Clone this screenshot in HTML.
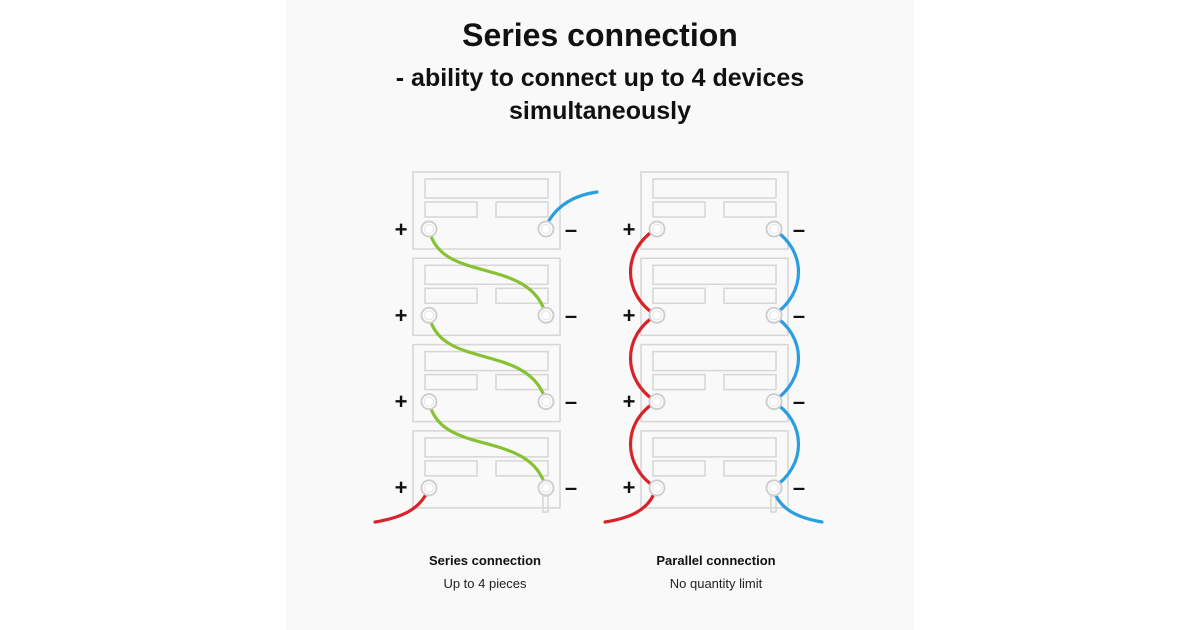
<!DOCTYPE html>
<html><head><meta charset="utf-8"><style>
body{margin:0;width:1200px;height:630px;background:#fff;overflow:hidden;font-family:"Liberation Sans",sans-serif}
svg{position:absolute;left:0;top:0}
</style></head><body>
<svg width="1200" height="630" viewBox="0 0 1200 630">
<rect x="286" y="0" width="628" height="630" fill="#f9f9f9"/>
<g font-family="Liberation Sans, sans-serif" font-weight="bold" fill="#111" text-anchor="middle">
<text x="600" y="46" font-size="32">Series connection</text>
<text x="600" y="86" font-size="25">- ability to connect up to 4 devices</text>
<text x="600" y="119" font-size="25">simultaneously</text>
<text x="485" y="565" font-size="13">Series connection</text>
<text x="716" y="565" font-size="13">Parallel connection</text>
</g>
<g font-family="Liberation Sans, sans-serif" fill="#222" text-anchor="middle" font-size="13">
<text x="485" y="588">Up to 4 pieces</text>
<text x="716" y="588">No quantity limit</text>
</g>
<g id="boxes" fill="none" stroke="#d6d6d6" stroke-width="1.5">
<g><rect x="413" y="172" width="147" height="77"/><rect x="425" y="179" width="123" height="19"/><rect x="425" y="202" width="52" height="15"/><rect x="496" y="202" width="52" height="15"/></g>
<g transform="translate(0,86.3)"><rect x="413" y="172" width="147" height="77"/><rect x="425" y="179" width="123" height="19"/><rect x="425" y="202" width="52" height="15"/><rect x="496" y="202" width="52" height="15"/></g>
<g transform="translate(0,172.6)"><rect x="413" y="172" width="147" height="77"/><rect x="425" y="179" width="123" height="19"/><rect x="425" y="202" width="52" height="15"/><rect x="496" y="202" width="52" height="15"/></g>
<g transform="translate(0,258.9)"><rect x="413" y="172" width="147" height="77"/><rect x="425" y="179" width="123" height="19"/><rect x="425" y="202" width="52" height="15"/><rect x="496" y="202" width="52" height="15"/></g>
<g transform="translate(228,0)"><rect x="413" y="172" width="147" height="77"/><rect x="425" y="179" width="123" height="19"/><rect x="425" y="202" width="52" height="15"/><rect x="496" y="202" width="52" height="15"/></g>
<g transform="translate(228,86.3)"><rect x="413" y="172" width="147" height="77"/><rect x="425" y="179" width="123" height="19"/><rect x="425" y="202" width="52" height="15"/><rect x="496" y="202" width="52" height="15"/></g>
<g transform="translate(228,172.6)"><rect x="413" y="172" width="147" height="77"/><rect x="425" y="179" width="123" height="19"/><rect x="425" y="202" width="52" height="15"/><rect x="496" y="202" width="52" height="15"/></g>
<g transform="translate(228,258.9)"><rect x="413" y="172" width="147" height="77"/><rect x="425" y="179" width="123" height="19"/><rect x="425" y="202" width="52" height="15"/><rect x="496" y="202" width="52" height="15"/></g>
<rect x="543" y="496" width="5" height="16"/>
<rect x="771" y="496" width="5" height="16"/>
</g>
<g fill="none" stroke-width="3.2" stroke-linecap="round">
<path d="M548,222 C558,205 575,195 597,192" stroke="#2b9ee0"/>
<path d="M429,229 C440,285 530,255 546,315.3" stroke="#86c232"/>
<path d="M429,315.3 C440,371 530,342 546,401.6" stroke="#86c232"/>
<path d="M429,401.6 C440,458 530,428 546,487.9" stroke="#86c232"/>
<path d="M428,490 C420,510 400,518 375,522" stroke="#d9232a"/>
<path d="M656,229 C622,250 622,294 656,315.3 C622,336 622,380 656,401.6 C622,422 622,466 656,487.9 C650,510 630,518 605,522" stroke="#d9232a"/>
<path d="M773,229 C807,250 807,294 773,315.3 C807,336 807,380 773,401.6 C807,422 807,466 773,487.9 C779,510 799,518 822,522" stroke="#2b9ee0"/>
</g>
<g fill="#fff" stroke="#cfcfcf" stroke-width="2">
<circle cx="429" cy="229" r="7.5"/><circle cx="546" cy="229" r="7.5"/>
<circle cx="429" cy="315.3" r="7.5"/><circle cx="546" cy="315.3" r="7.5"/>
<circle cx="429" cy="401.6" r="7.5"/><circle cx="546" cy="401.6" r="7.5"/>
<circle cx="429" cy="487.9" r="7.5"/><circle cx="546" cy="487.9" r="7.5"/>
<circle cx="657" cy="229" r="7.5"/><circle cx="774" cy="229" r="7.5"/>
<circle cx="657" cy="315.3" r="7.5"/><circle cx="774" cy="315.3" r="7.5"/>
<circle cx="657" cy="401.6" r="7.5"/><circle cx="774" cy="401.6" r="7.5"/>
<circle cx="657" cy="487.9" r="7.5"/><circle cx="774" cy="487.9" r="7.5"/>
</g>
<g fill="none" stroke="#e2e2e2" stroke-width="1">
<circle cx="429" cy="229" r="4.5"/><circle cx="546" cy="229" r="4.5"/>
<circle cx="429" cy="315.3" r="4.5"/><circle cx="546" cy="315.3" r="4.5"/>
<circle cx="429" cy="401.6" r="4.5"/><circle cx="546" cy="401.6" r="4.5"/>
<circle cx="429" cy="487.9" r="4.5"/><circle cx="546" cy="487.9" r="4.5"/>
<circle cx="657" cy="229" r="4.5"/><circle cx="774" cy="229" r="4.5"/>
<circle cx="657" cy="315.3" r="4.5"/><circle cx="774" cy="315.3" r="4.5"/>
<circle cx="657" cy="401.6" r="4.5"/><circle cx="774" cy="401.6" r="4.5"/>
<circle cx="657" cy="487.9" r="4.5"/><circle cx="774" cy="487.9" r="4.5"/>
</g>
<g font-family="Liberation Sans, sans-serif" font-weight="bold" font-size="22" fill="#111" text-anchor="middle">
<text x="401" y="237">+</text><text x="571" y="237">–</text>
<text x="401" y="323">+</text><text x="571" y="323">–</text>
<text x="401" y="409">+</text><text x="571" y="409">–</text>
<text x="401" y="495">+</text><text x="571" y="495">–</text>
<text x="629" y="237">+</text><text x="799" y="237">–</text>
<text x="629" y="323">+</text><text x="799" y="323">–</text>
<text x="629" y="409">+</text><text x="799" y="409">–</text>
<text x="629" y="495">+</text><text x="799" y="495">–</text>
</g>
</svg>
</body></html>
